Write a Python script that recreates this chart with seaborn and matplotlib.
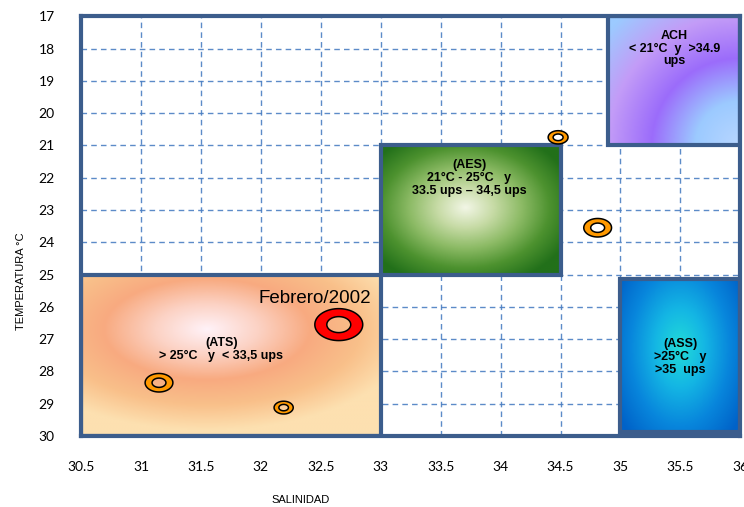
"""
Diagrama T-S: masas de agua, Febrero/2002
"""
import numpy as np
import pandas as pd
import matplotlib
matplotlib.use("Agg")
import matplotlib.pyplot as plt
from matplotlib.colors import LinearSegmentedColormap
from matplotlib.patches import Rectangle
from matplotlib.path import Path
import seaborn as sns

# estaciones
salinidad = [32.65, 31.15, 32.19, 34.48, 34.81]
temperatura = [26.55, 28.35, 29.12, 20.75, 23.55]
grupo = ["feb", "otro", "otro", "otro", "otro"]
tamano = [1190, 400, 190, 205, 400]

# masas de agua (salinidad min/max, temperatura min/max)
zonas = ["ATS", "AES", "ACH", "ASS"]
zona_sal = [(30.5, 33.0), (33.0, 34.5), (34.9, 36.0), (35.0, 36.0)]
zona_temp = [(25.0, 30.0), (21.0, 25.0), (17.0, 21.0), (25.15, 29.88)]
zona_txt = [
    "(ATS)\n> 25°C   y  < 33,5 ups",
    "(AES)\n21°C - 25°C   y\n33.5 ups – 34,5 ups",
    "ACH\n< 21°C  y  >34.9\nups",
    "(ASS)\n>25°C   y\n>35  ups",
]
zona_txt_pos = [(31.67, 27.33), (33.74, 22.0), (35.45, 18.0), (35.5, 27.55)]

x_ticks = [30.5, 31, 31.5, 32, 32.5, 33, 33.5, 34, 34.5, 35, 35.5, 36]
y_ticks = list(range(17, 31))

BORDE = "#3c5d8c"
GRID = "#4a7ec2"


def gradiente(ax, sal, temp, colores, centro, escala, z=1):
    cmap = LinearSegmentedColormap.from_list("g", colores)
    u, v = np.meshgrid(np.linspace(0, 1, 200), np.linspace(0, 1, 200))
    r = np.sqrt(((u - centro[0]) * escala[0]) ** 2 + ((v - centro[1]) * escala[1]) ** 2)
    r = np.clip(r, 0, 1)
    # v = 0 abajo (temperatura max) con eje invertido
    ax.imshow(r, cmap=cmap, vmin=0, vmax=1, aspect="auto", interpolation="bilinear",
              extent=(sal[0], sal[1], temp[1], temp[0]), origin="lower", zorder=z)


def anillo(interior=0.5):
    t = np.linspace(0, 2 * np.pi, 80)
    ext = np.column_stack([1.5 * np.cos(t), np.sin(t)])
    inn = np.column_stack([1.5 * interior * np.cos(t), interior * np.sin(t)])[::-1]
    verts = np.vstack([ext, inn])
    codes = np.full(len(verts), Path.LINETO)
    codes[0] = Path.MOVETO
    codes[len(ext)] = Path.MOVETO
    codes[len(ext) - 1] = Path.CLOSEPOLY
    codes[-1] = Path.CLOSEPOLY
    return Path(verts, codes)


sns.set_style("white")
plt.rcParams["font.family"] = ["Liberation Sans", "DejaVu Sans"]
plt.rcParams["text.color"] = "black"
plt.rcParams["axes.labelcolor"] = "black"

fig = plt.figure(figsize=(7.44, 5.07), dpi=100)
ax = fig.add_axes([0.109, 0.14, 0.886, 0.828])

ax.set_xlim(30.5, 36)
ax.set_ylim(30, 17)

# fondos con degradado
gradiente(ax, zona_sal[0], zona_temp[0],
          ["#fff2f8", "#fcd2c4", "#f8aa80", "#f9c08a", "#fde0b0"],
          (0.42, 0.66), (1.45, 1.6))
gradiente(ax, zona_sal[1], zona_temp[1],
          ["#f2f6e6", "#c7dba6", "#8dbb66", "#4d922f", "#22701a"],
          (0.47, 0.52), (1.6, 1.6))
gradiente(ax, zona_sal[2], zona_temp[2],
          ["#b8d6ff", "#9ccaff", "#9b6cfb", "#c39cf7", "#9ccaff"],
          (1.0, 0.0), (0.75, 0.75))
gradiente(ax, zona_sal[3], zona_temp[3],
          ["#22dcd8", "#14b6e4", "#0886dc", "#0062c8"],
          (0.5, 0.55), (1.6, 1.3))

for s, t in zip(zona_sal, zona_temp):
    ax.add_patch(Rectangle((s[0], t[0]), s[1] - s[0], t[1] - t[0], fill=False,
                           edgecolor=BORDE, lw=3, zorder=3))

for txt, (px, py) in zip(zona_txt, zona_txt_pos):
    ax.text(px, py, txt, ha="center", va="center", fontsize=9, fontweight="bold",
            linespacing=1.1, color="black", zorder=4)

ax.text(32.45, 25.73, "Febrero/2002", ha="center", va="center", fontsize=13.5,
        color="black", zorder=4)

df = pd.DataFrame({"salinidad": salinidad, "temperatura": temperatura, "grupo": grupo})
sns.scatterplot(data=df, x="salinidad", y="temperatura", hue="grupo",
                palette={"feb": "#ff0000", "otro": "#ff9900"}, s=tamano,
                marker=anillo(), edgecolor="black", linewidth=1.1,
                legend=False, zorder=5, ax=ax)

ax.set_xticks(x_ticks)
ax.set_xticklabels([f"{v:g}" for v in x_ticks])
ax.set_yticks(y_ticks)
ax.grid(True, color=GRID, linestyle=(0, (4, 3)), lw=1.0, alpha=0.9)
ax.set_axisbelow(True)
ax.tick_params(axis="both", length=7, color=GRID, width=0.9, labelsize=10,
               labelcolor="black", labelfontfamily="Lato")
ax.tick_params(axis="x", pad=11)
ax.tick_params(axis="y", pad=12)
for sp in ax.spines.values():
    sp.set_color(BORDE)
    sp.set_linewidth(3)
    sp.set_zorder(6)

ax.set_xlabel("SALINIDAD", fontsize=8)
ax.set_ylabel("TEMPERATURA °C", fontsize=8)
ax.xaxis.set_label_coords(0.333, -0.14)
ax.yaxis.set_label_coords(-0.083, 0.37)

fig.savefig("out.png", dpi=100)
